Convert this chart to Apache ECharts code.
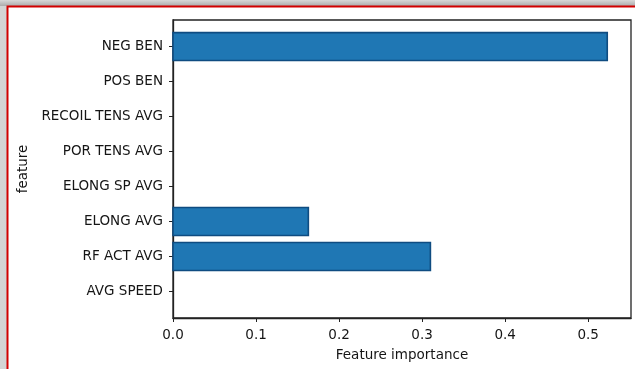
<!DOCTYPE html>
<html>
<head>
<meta charset="utf-8">
<script src="https://cdn.jsdelivr.net/npm/echarts@6/dist/echarts.min.js"></script>
<style>
  html, body { margin: 0; padding: 0; background: #fff; }
  #chart { width: 635px; height: 369px; }
</style>
</head>
<body>
<div id="chart"></div>
<script>
// Feature names, bottom to top
const features = ['AVG SPEED', 'RF ACT AVG', 'ELONG AVG', 'ELONG SP AVG',
                  'POR TENS AVG', 'RECOIL TENS AVG', 'POS BEN', 'NEG BEN'];
// Importance per feature
const importance = [0, 0.310, 0.163, 0, 0, 0, 0, 0.523];
// X-axis tick values
const xTicks = [0, 0.1, 0.2, 0.3, 0.4, 0.5];
const yTicks = features.map((f, i) => i);

const chart = echarts.init(document.getElementById('chart'), null, { renderer: 'canvas' });

const FONT = 'DejaVu Sans';
const TEXT = '#151515';
const SIZE = 13.5;

chart.setOption({
  animation: false,
  backgroundColor: '#ffffff',
  graphic: [
    {
      type: 'rect', z: -10, silent: true,
      shape: { x: 0, y: 0, width: 635, height: 369 },
      style: {
        fill: new echarts.graphic.LinearGradient(0, 0, 1, 0, [
          { offset: 0, color: '#d4d4d4' }, { offset: 1, color: '#a9a9a9' }
        ])
      }
    },
    {
      type: 'rect', z: -9, silent: true,
      shape: { x: 0, y: 0, width: 635, height: 6 },
      style: {
        fill: new echarts.graphic.LinearGradient(0, 0, 0, 1, [
          { offset: 0, color: '#d8d8d8' }, { offset: 1, color: '#ababab' }
        ])
      }
    },
    {
      type: 'rect', z: -8, silent: true,
      shape: { x: 7.5, y: 6.5, width: 640, height: 370 },
      style: { fill: '#ffffff', stroke: '#d10000', lineWidth: 2 }
    }
  ],
  grid: {
    left: 173, right: 4, top: 20, bottom: 51,
    show: true, borderColor: '#222', borderWidth: 1.3, backgroundColor: 'transparent'
  },
  xAxis: {
    type: 'value', min: 0, max: 0.5516,
    name: 'Feature importance', nameLocation: 'middle', nameGap: 30,
    nameTextStyle: { fontFamily: FONT, fontSize: SIZE, color: TEXT },
    axisLine: { show: true, onZero: false, lineStyle: { color: '#222', width: 1.3 } },
    axisTick: { show: true, length: 4, customValues: xTicks, lineStyle: { color: '#222' } },
    axisLabel: {
      customValues: xTicks, margin: 10,
      fontFamily: FONT, fontSize: SIZE, color: TEXT,
      formatter: v => v.toFixed(1)
    },
    splitLine: { show: false }
  },
  yAxis: {
    type: 'value', min: -0.76, max: 7.76,
    name: 'feature', nameLocation: 'middle', nameGap: 137, nameRotate: 90,
    nameTextStyle: { fontFamily: FONT, fontSize: SIZE, color: TEXT },
    axisLine: { show: true, onZero: false, lineStyle: { color: '#222', width: 1.3 } },
    axisTick: { show: true, length: 4, customValues: yTicks, lineStyle: { color: '#222' } },
    axisLabel: {
      customValues: yTicks, margin: 10,
      fontFamily: FONT, fontSize: SIZE, color: TEXT,
      formatter: v => features[Math.round(v)] || ''
    },
    splitLine: { show: false }
  },
  series: [{
    type: 'custom',
    encode: { x: 0, y: 1 },
    data: importance.map((v, i) => [v, i]),
    renderItem(params, api) {
      const v = api.value(0);
      const idx = api.value(1);
      if (!v) return null;
      const start = api.coord([0, idx]);
      const end = api.coord([v, idx]);
      const h = api.size([0, 0.8])[1];
      return {
        type: 'rect',
        shape: { x: start[0], y: start[1] - h / 2, width: end[0] - start[0], height: h },
        style: { fill: '#1f77b4', stroke: '#0f4c81', lineWidth: 1.6 }
      };
    }
  }]
});
</script>
</body>
</html>
